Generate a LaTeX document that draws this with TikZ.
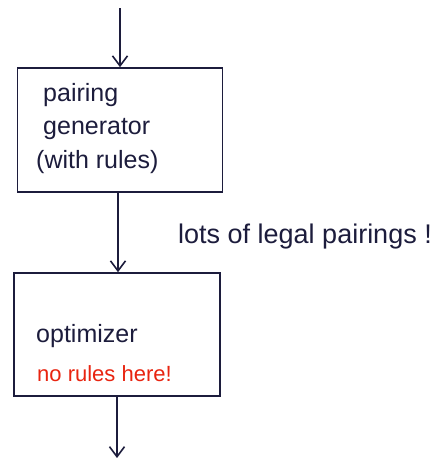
\documentclass[tikz,border=0pt]{standalone}
\usepackage{fontspec}
\setmainfont{Liberation Sans}
\usetikzlibrary{arrows.meta}
\definecolor{ink}{RGB}{28,28,60}
\definecolor{redink}{RGB}{232,36,16}
\begin{document}
\begin{tikzpicture}[x=1pt,y=-1pt,
  box/.style={draw=ink,line width=1.6pt,inner sep=0pt},
  flow/.style={draw=ink,line width=1.8pt,-{Straight Barb[length=10pt,width=15pt,line width=1.6pt]}},
  hand/.style={text=ink,font=\fontsize{25}{30}\selectfont,inner sep=0pt,anchor=base west},
  note/.style={text=redink,font=\fontsize{22}{26}\selectfont,inner sep=0pt,anchor=base west}]
\useasboundingbox (0,0) rectangle (438,458);
% processing stages
\node[box,minimum width=205pt,minimum height=124pt] (gen) at (120,130) {};
\node[box,minimum width=206pt,minimum height=123pt] (opt) at (117,334.5) {};
% stage labels
\node[hand] (l1) at (43,101) {pairing};
\node[hand] (l2) at (43,134) {generator};
\node[hand] (l3) at (36,168) {(with rules)};
\node[hand] (l4) at (36,342) {optimizer};
\node[note] (l5) at (37,381) {no rules here!};
\node[hand,font=\fontsize{27}{32}\selectfont] (l6) at (178,243) {lots of legal pairings !};
% connectors
\coordinate (in) at (120,8);
\coordinate (out) at (117,458);
\draw[flow] (in) -- (gen.north);
\draw[flow] ([xshift=-2pt]gen.south) -- ([xshift=1pt]opt.north);
\draw[flow] (opt.south) -- (out);
\end{tikzpicture}
\end{document}
